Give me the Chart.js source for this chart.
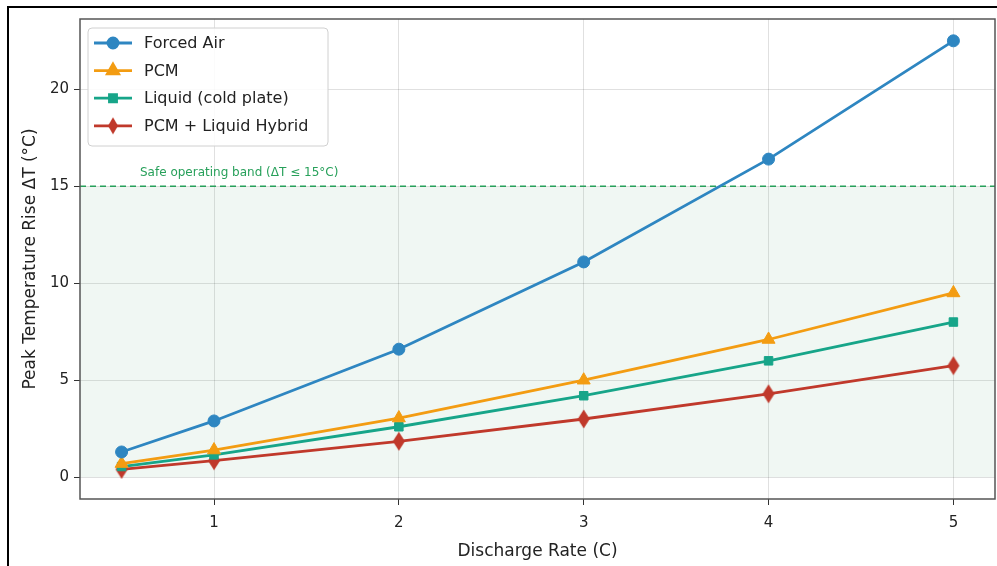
<!DOCTYPE html>
<html>
<head>
<meta charset="utf-8">
<script src="https://cdn.jsdelivr.net/npm/chart.js@4.4.1/dist/chart.umd.min.js"></script>
<style>
  html, body { margin: 0; padding: 0; background: #fff; overflow: hidden; width: 997px; height: 566px; }
  #frame { position: absolute; left: 7px; top: 6px; width: 1000px; height: 600px; border: 2px solid #000; }
  #chart { position: absolute; left: 0; top: 0; }
</style>
</head>
<body>
<div id="frame"></div>
<canvas id="chart" width="1004" height="566"></canvas>
<script>
// discharge rates (C) and peak temperature rise (°C)
const rates = [0.5, 1, 2, 3, 4, 5];
const forcedAir = [1.3, 2.9, 6.6, 11.1, 16.4, 22.5];
const pcm = [0.7, 1.4, 3.05, 5.0, 7.1, 9.5];
const liquid = [0.55, 1.15, 2.6, 4.2, 6.0, 8.0];
const hybrid = [0.4, 0.85, 1.85, 3.0, 4.3, 5.75];
const seriesNames = ['Forced Air', 'PCM', 'Liquid (cold plate)', 'PCM + Liquid Hybrid'];
const xTicks = [1, 2, 3, 4, 5];
const yTicks = [0, 5, 10, 15, 20];
const safeLimit = 15;
const safeLabel = 'Safe operating band (\u0394T \u2264 15\u00b0C)';

const FONT = 'DejaVu Sans';
const colors = ['#2E86C1', '#F39C12', '#17A589', '#C0392B'];

// thin diamond like matplotlib 'd'
function thinDiamond(color, w, h) {
  const c = document.createElement('canvas');
  c.width = w; c.height = h;
  const g = c.getContext('2d');
  g.fillStyle = color;
  g.beginPath();
  g.moveTo(w / 2, 0.5); g.lineTo(w - 1, h / 2); g.lineTo(w / 2, h - 0.5); g.lineTo(1, h / 2);
  g.closePath();
  g.fill();
  return c;
}

const styles = ['circle', 'triangle', 'rect', thinDiamond(colors[3], 14, 20)];
const legendStyles = ['circle', 'triangle', 'rect', thinDiamond(colors[3], 12, 18)];
const radii = [6, 7.5, 6, 8];
const allData = [forcedAir, pcm, liquid, hybrid];

const datasets = allData.map((vals, i) => ({
  label: seriesNames[i],
  data: rates.map((x, j) => ({ x: x, y: vals[j] })),
  borderColor: colors[i],
  backgroundColor: colors[i],
  borderWidth: 2.8,
  pointStyle: styles[i],
  pointRadius: radii[i],
  pointBorderWidth: 1,
  tension: 0
}));

const decor = {
  id: 'decor',
  beforeDatasetsDraw(chart) {
    const { ctx, chartArea: a, scales: { y } } = chart;
    const y0 = y.getPixelForValue(0);
    const y15 = y.getPixelForValue(safeLimit);
    ctx.save();
    ctx.fillStyle = 'rgba(46,139,87,0.07)';
    ctx.fillRect(a.left, y15, a.right - a.left, y0 - y15);
    ctx.strokeStyle = '#27A05A';
    ctx.lineWidth = 1.6;
    ctx.setLineDash([6, 4]);
    ctx.beginPath();
    ctx.moveTo(a.left, y15);
    ctx.lineTo(a.right, y15);
    ctx.stroke();
    ctx.setLineDash([]);
    ctx.fillStyle = '#27A05A';
    ctx.font = '12px "' + FONT + '"';
    ctx.textBaseline = 'alphabetic';
    ctx.fillText(safeLabel, 140, y15 - 10);
    ctx.restore();
  },
  afterDraw(chart) {
    const { ctx, chartArea: a } = chart;
    ctx.save();
    // axes frame
    ctx.strokeStyle = '#555';
    ctx.lineWidth = 1.5;
    ctx.strokeRect(a.left, a.top, a.right - a.left, a.bottom - a.top);
    // legend box
    const bx = 88, by = 28, bw = 240, bh = 118;
    ctx.fillStyle = 'rgba(255,255,255,0.85)';
    ctx.strokeStyle = '#d0d0d0';
    ctx.lineWidth = 1;
    ctx.beginPath();
    ctx.roundRect(bx, by, bw, bh, 4);
    ctx.fill();
    ctx.stroke();
    ctx.font = '16px "' + FONT + '"';
    ctx.textBaseline = 'middle';
    chart.data.datasets.forEach((ds, i) => {
      const ry = 43 + i * 27.6;
      ctx.strokeStyle = ds.borderColor;
      ctx.lineWidth = 2.8;
      ctx.beginPath();
      ctx.moveTo(94, ry);
      ctx.lineTo(132, ry);
      ctx.stroke();
      ctx.fillStyle = ds.backgroundColor;
      ctx.strokeStyle = ds.borderColor;
      Chart.helpers.drawPoint(ctx, {
        pointStyle: legendStyles[i], radius: ds.pointRadius - 1, rotation: 0, borderWidth: 1
      }, 113, ry);
      ctx.fillStyle = '#222';
      ctx.fillText(ds.label, 144, ry + 1);
    });
    ctx.restore();
  }
};

new Chart(document.getElementById('chart'), {
  type: 'line',
  data: { datasets: datasets },
  options: {
    responsive: false,
    animation: false,
    layout: { padding: { top: 19, right: 2, left: 0, bottom: 0 } },
    plugins: { legend: { display: false }, tooltip: { enabled: false } },
    scales: {
      x: {
        type: 'linear',
        min: 0.275,
        max: 5.225,
        afterBuildTicks: s => { s.ticks = xTicks.map(v => ({ value: v })); },
        afterFit: s => { s.height = 67; },
        grid: { color: 'rgba(0,0,0,0.12)', tickColor: '#333', tickLength: 6 },
        border: { display: false },
        ticks: { color: '#222', font: { family: FONT, size: 15 }, padding: 9 },
        title: { display: true, text: 'Discharge Rate (C)', color: '#222', font: { family: FONT, size: 17 }, padding: { top: 0 } }
      },
      y: {
        min: -1.125,
        max: 23.625,
        afterBuildTicks: s => { s.ticks = yTicks.map(v => ({ value: v })); },
        afterFit: s => { s.width = 80; },
        grid: { color: 'rgba(0,0,0,0.12)', tickColor: '#333', tickLength: 6 },
        border: { display: false },
        ticks: { color: '#222', font: { family: FONT, size: 15 }, padding: 5 },
        title: { display: true, text: 'Peak Temperature Rise \u0394T (\u00b0C)', color: '#222', font: { family: FONT, size: 17 }, padding: { top: 20, bottom: 4 } }
      }
    }
  },
  plugins: [decor]
});
</script>
</body>
</html>
